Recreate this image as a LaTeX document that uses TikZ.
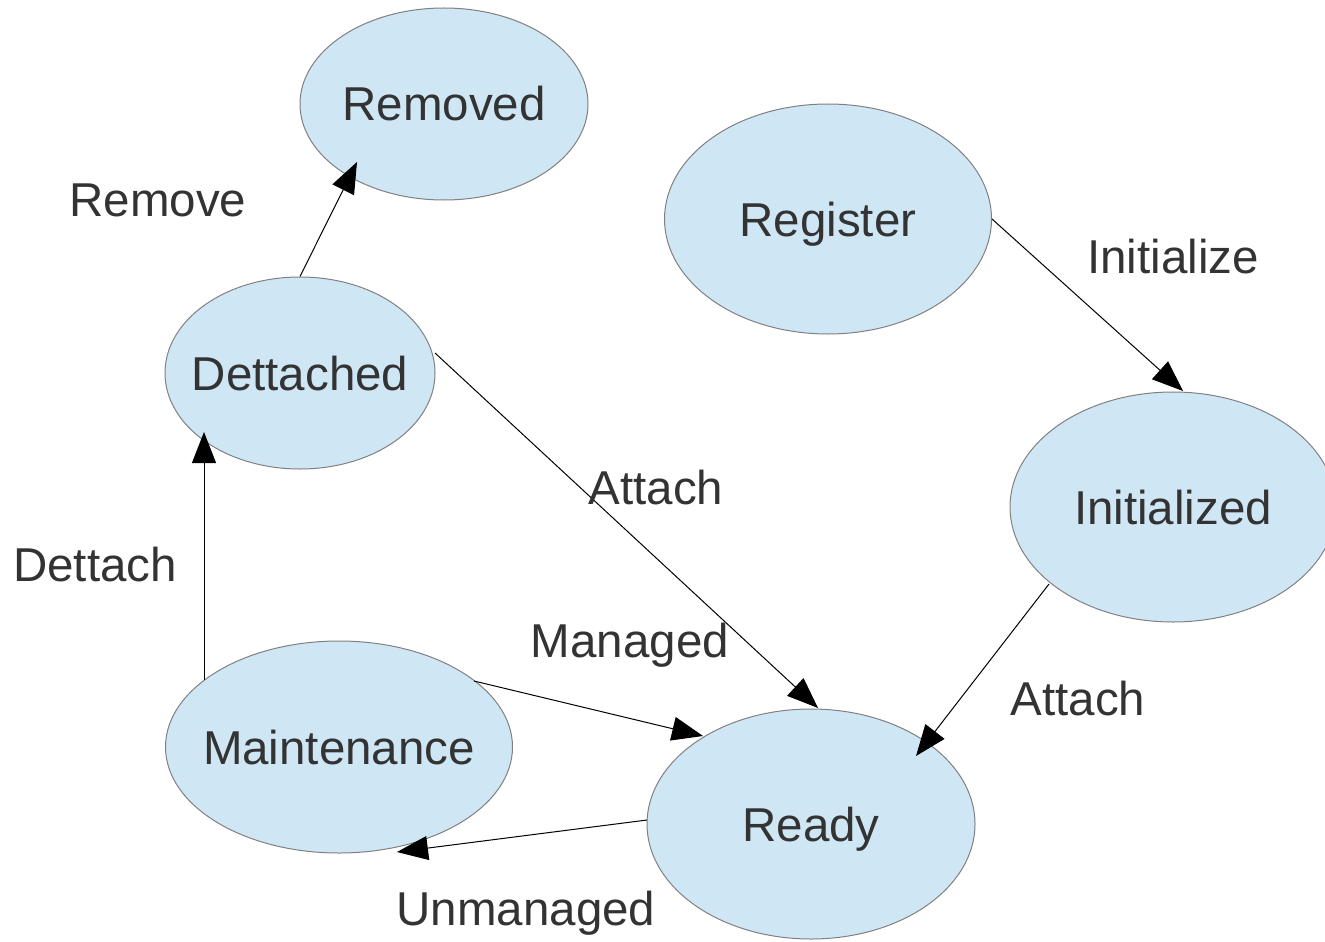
\documentclass[tikz,border=0pt]{standalone}
\usepackage{fontspec}
\setmainfont{Liberation Sans}
\usetikzlibrary{shapes.geometric,arrows.meta,calc}
\definecolor{statefill}{RGB}{207,231,245}
\definecolor{stateline}{RGB}{128,128,128}
\definecolor{textgray}{RGB}{51,51,51}
% labels are set in a zero-width box so the ellipse size comes only from the minimum sizes
\newcommand{\stlabel}[1]{\makebox[0pt][c]{#1}}
\tikzset{
  state/.style={ellipse, draw=stateline, line width=0.5pt, fill=statefill,
    inner sep=0pt, text=textgray, text height=17pt, text depth=0pt,
    font=\fontsize{23.75}{28}\selectfont},
  edgelabel/.style={inner sep=0pt, text=textgray, text height=17pt, text depth=0pt,
    font=\fontsize{23.75}{28}\selectfont},
  trans/.style={draw=black, line width=0.5pt, -{Triangle[length=15.5pt,width=12pt]}}
}
\begin{document}
\begin{tikzpicture}[x=0.5pt,y=-0.5pt]
\useasboundingbox (0,0) rectangle (1325,941);

% states
\node[state, minimum width=144pt,   minimum height=96pt]  (rem) at (444,104)  {\stlabel{Removed}};
\node[state, minimum width=163.5pt, minimum height=115pt] (reg) at (828,219)  {\stlabel{Register}};
\node[state, minimum width=135pt,   minimum height=96pt]  (det) at (300,373)  {\stlabel{Dettached}};
\node[state, minimum width=163pt,   minimum height=115pt] (ini) at (1173,507) {\stlabel{Initialized}};
\node[state, minimum width=173.5pt, minimum height=106pt] (mnt) at (339,747)  {\stlabel{Maintenance}};
\node[state, minimum width=164pt,   minimum height=115pt] (rdy) at (811,824)  {\stlabel{Ready}};

% transitions
\draw[trans] (det.north) -- ($(rem.center)+(-87,58)$);
\draw[trans] (reg.east) -- ($(ini.center)+(10,-116)$);
\draw[trans] ($(det.center)+(135,-20)$) -- ($(rdy.center)+(7,-116)$);
\draw[trans] ($(ini.center)+(-124,77)$) -- ($(rdy.center)+(105,-68)$);
\draw[trans] ($(mnt.center)+(135,-66)$) -- ($(rdy.center)+(-108,-88)$);
\draw[trans] ($(rdy.center)+(-164,-4)$) -- ($(mnt.center)+(58,105)$);
\draw[trans] ($(mnt.center)+(-135,-67)$) -- ($(det.center)+(-96,59)$);

% transition labels
\node[edgelabel] (lremove)  at (158,199)  {Remove};
\node[edgelabel] (linit)    at (1173,256) {Initialize};
\node[edgelabel] (lattach1) at (656,487)  {Attach};
\node[edgelabel] (ldettach) at (95,564)   {Dettach};
\node[edgelabel] (lmanaged) at (630,640)  {Managed};
\node[edgelabel] (lattach2) at (1078,698) {Attach};
\node[edgelabel] (lunman)   at (526,908)  {Unmanaged};
\end{tikzpicture}
\end{document}
